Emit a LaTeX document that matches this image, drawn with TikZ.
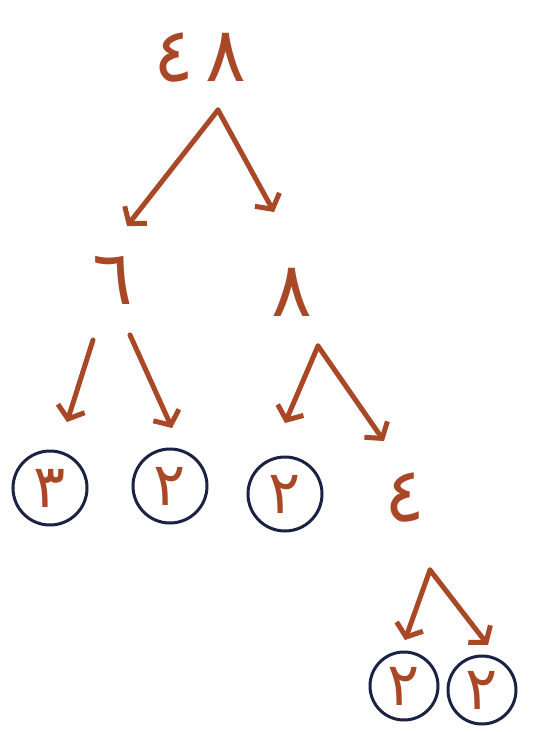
\documentclass[tikz,border=0pt]{standalone}
\usepackage{fontspec}
\newfontfamily\arabicfont{DejaVu Sans}
\usetikzlibrary{arrows.meta}
\definecolor{ink}{HTML}{A84826}
\definecolor{pen}{HTML}{1C2244}
\tikzset{
  num/.style={text=ink, font=\arabicfont\fontsize{76}{78}\selectfont, inner sep=0pt},
  leaf/.style={text=ink, font=\arabicfont\fontsize{60}{62}\selectfont, inner sep=0pt,
               draw=pen, line width=3pt, circle, minimum size=74pt},
  branch/.style={draw=ink, line width=5pt, line cap=round, line join=round,
                 -{Straight Barb[length=11pt,width=28pt,line width=5pt]}},
}
\begin{document}
\begin{tikzpicture}[x=1pt,y=-1pt]
\useasboundingbox[fill=white] (0,0) rectangle (533,732);

% numbers
\node[num] (n48) at (200,58) {٤\hspace{12pt}٨};
\node[num] (n6)  at (113,280) {٦};
\node[num] (n8)  at (292,292) {٨};
\node[num] (n4)  at (405,498) {٤};

% circled prime factors
\node[leaf] (l3)  at (50,488)  {٣};
\node[leaf] (l2a) at (170,486) {٢};
\node[leaf] (l2b) at (285,494) {٢};
\node[leaf, minimum size=68pt] (l2c) at (404,686) {٢};
\node[leaf, minimum size=68pt] (l2d) at (482,690) {٢};

% branch points and arrow ends
\coordinate (a48) at (218,110);
\coordinate (e48l) at (127,226);
\coordinate (e48r) at (274,212);
\coordinate (e6l1) at (93,340);
\coordinate (e6l) at (67,422);
\coordinate (e6r1) at (130,335);
\coordinate (e6r) at (172,428);
\coordinate (a8) at (318,346);
\coordinate (e8l) at (285,423);
\coordinate (e8r) at (384,441);
\coordinate (a4) at (430,570);
\coordinate (e4l) at (405,640);
\coordinate (e4r) at (488,645);

% factor branches
\draw[branch] (a48) -- (e48l);
\draw[branch] (a48) -- (e48r);
\draw[branch] (e6l1) -- (e6l);
\draw[branch] (e6r1) -- (e6r);
\draw[branch] (a8) -- (e8l);
\draw[branch] (a8) -- (e8r);
\draw[branch] (a4) -- (e4l);
\draw[branch] (a4) -- (e4r);
\end{tikzpicture}
\end{document}
